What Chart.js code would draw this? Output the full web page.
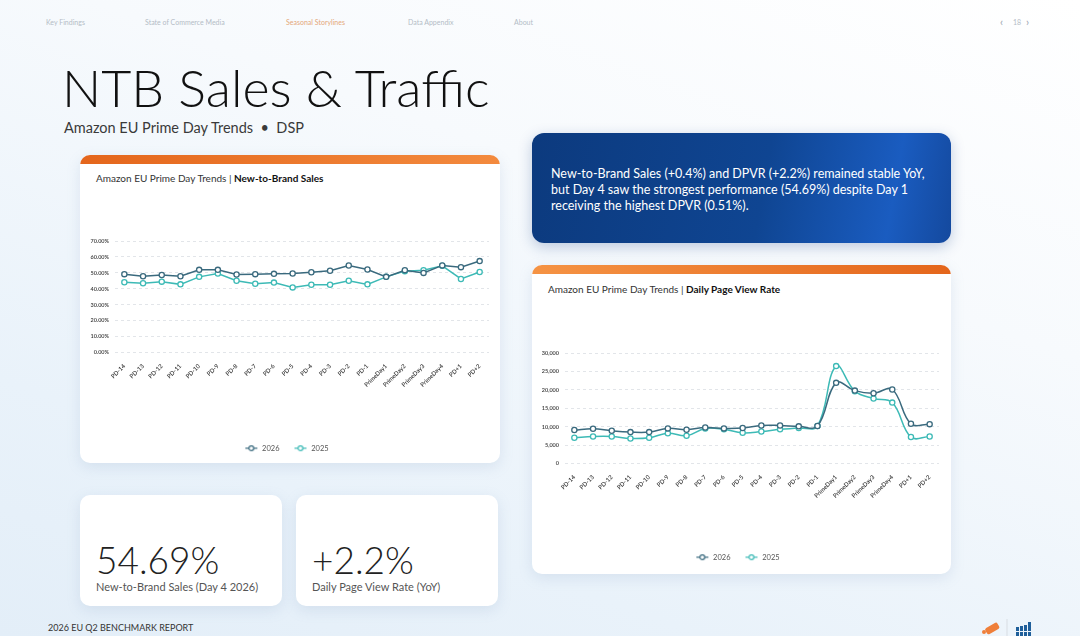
<!DOCTYPE html>
<html>
<head>
<meta charset="utf-8">
<script src="https://cdn.jsdelivr.net/npm/chart.js@4.4.0/dist/chart.umd.min.js"></script>
<style>
  html,body{margin:0;padding:0;}
  body{width:1080px;height:636px;overflow:hidden;position:relative;font-family:"Lato","Noto Sans",sans-serif;
    background:linear-gradient(200deg,#ffffff 0%,#f7fafd 35%,#e9f2fa 75%,#e3eef8 100%);}
  .abs{position:absolute;}
  .nav{top:18px;font-size:7px;color:#b4bcc6;white-space:nowrap;}
  .title{left:62px;top:56px;font-size:52px;font-weight:300;color:#111;letter-spacing:0px;white-space:nowrap;}
  .sub{left:64px;top:119px;font-size:14.5px;color:#3a3a3a;white-space:nowrap;}
  .card{background:#fff;border-radius:10px;box-shadow:0 4px 14px rgba(120,150,190,0.18);overflow:hidden;}
  .bar{position:absolute;left:0;top:0;right:0;height:9px;}
  .ctitle{position:absolute;font-size:10px;color:#333;white-space:nowrap;}
  .ctitle b{color:#111;font-weight:700;}
  .blue{left:532px;top:133px;width:419px;height:110px;border-radius:12px;
    background:linear-gradient(100deg,#0c3a7e 0%,#0f4592 55%,#1a5cc0 85%,#14499e 100%);
    box-shadow:0 4px 14px rgba(20,60,130,0.25);}
  .blue p{margin:0;position:absolute;left:19px;top:33px;width:378px;font-size:12.5px;line-height:16px;color:#fff;}
  .kpi{position:absolute;}
  .kpi .num{position:absolute;left:16px;top:42px;font-size:37px;font-weight:300;color:#222;white-space:nowrap;}
  .kpi .lbl{position:absolute;left:16px;top:85px;font-size:11px;color:#555;white-space:nowrap;}
  .foot{left:48px;top:622px;font-size:9px;color:#333;white-space:nowrap;}
</style>
</head>
<body>
<div class="abs nav" style="left:46px">Key Findings</div>
<div class="abs nav" style="left:145px">State of Commerce Media</div>
<div class="abs nav" style="left:286px;color:#e4a77a">Seasonal Storylines</div>
<div class="abs nav" style="left:408px">Data Appendix</div>
<div class="abs nav" style="left:514px">About</div>
<div class="abs nav" style="left:1000px;top:15px;font-size:11px;color:#9aa3ad">‹</div>
<div class="abs nav" style="left:1013px;">18</div>
<div class="abs nav" style="left:1026px;top:15px;font-size:11px;color:#9aa3ad">›</div>

<div class="abs title">NTB Sales &amp; Traffic</div>
<div class="abs sub">Amazon EU Prime Day Trends &nbsp;•&nbsp; DSP</div>

<div class="abs card" style="left:80px;top:155px;width:420px;height:308px;">
  <div class="bar" style="background:linear-gradient(90deg,#e4661c,#f38a3e);"></div>
  <div class="ctitle" style="left:16px;top:17px;">Amazon EU Prime Day Trends | <b>New-to-Brand Sales</b></div>
</div>
<div class="abs" style="left:84px;top:226px;width:412px;height:240px;"><canvas id="c1"></canvas></div>

<div class="abs blue"><p>New-to-Brand Sales (+0.4%) and DPVR (+2.2%) remained stable YoY, but Day 4 saw the strongest performance (54.69%) despite Day 1 receiving the highest DPVR (0.51%).</p></div>

<div class="abs card" style="left:532px;top:265px;width:419px;height:309px;">
  <div class="bar" style="background:linear-gradient(90deg,#f59344,#e4661c);"></div>
  <div class="ctitle" style="left:16px;top:18px;">Amazon EU Prime Day Trends | <b>Daily Page View Rate</b></div>
</div>
<div class="abs" style="left:536px;top:338px;width:410px;height:237px;"><canvas id="c2"></canvas></div>

<div class="abs card kpi" style="left:80px;top:495px;width:202px;height:111px;">
  <div class="num">54.69%</div>
  <div class="lbl">New-to-Brand Sales (Day 4 2026)</div>
</div>
<div class="abs card kpi" style="left:296px;top:495px;width:202px;height:111px;">
  <div class="num">+2.2%</div>
  <div class="lbl">Daily Page View Rate (YoY)</div>
</div>

<div class="abs foot">2026 EU Q2 BENCHMARK REPORT</div>
<svg class="abs" style="left:975px;top:616px" width="70" height="20" viewBox="0 0 70 20">
  <g fill="#ef7f3a">
    <rect x="10" y="9" width="14" height="7" rx="2" transform="rotate(-30 17 12)"/>
    <circle cx="9" cy="16" r="2"/>
  </g>
  <line x1="32" y1="3" x2="32" y2="20" stroke="#d8dde3" stroke-width="1"/>
  <g fill="#1f5f9a">
    <rect x="41" y="11" width="3" height="4"/><rect x="45" y="10" width="3" height="5"/><rect x="49" y="9" width="3" height="6"/><rect x="53" y="6" width="3" height="9"/>
    <rect x="41" y="16" width="3" height="4"/><rect x="45" y="16" width="3" height="4"/><rect x="49" y="16" width="3" height="4"/><rect x="53" y="16" width="3" height="4"/>
  </g>
</svg>

<script>
const categories = ["PD-14","PD-13","PD-12","PD-11","PD-10","PD-9","PD-8","PD-7","PD-6","PD-5","PD-4","PD-3","PD-2","PD-1","PrimeDay1","PrimeDay2","PrimeDay3","PrimeDay4","PD+1","PD+2"];
const ntb2026 = [49.2,47.9,48.7,47.9,51.9,51.9,49.0,49.2,49.4,49.6,50.4,51.3,54.6,52.1,47.5,51.7,50.0,54.69,53.6,57.4];
const ntb2025 = [44.1,43.5,44.5,42.8,47.5,49.6,45.1,43.2,43.9,40.9,42.6,42.6,45.1,42.8,47.5,51.1,51.7,54.4,46.2,50.6];
const dpv2026 = [9100,9450,8900,8550,8550,9550,9200,9800,9550,9650,10350,10350,10100,10200,21900,19800,19100,20100,10800,10700];
const dpv2025 = [7000,7350,7350,6800,7000,8250,7550,9550,9300,8350,8700,9300,9650,10200,26450,19650,17650,16550,7200,7350];
const seriesNames = ["2026","2025"];
const colors = ["#3a6a7e","#3dbab6"];

function legendImg(color){
  const c=document.createElement('canvas');
  c.width=14; c.height=8;
  const g=c.getContext('2d');
  g.strokeStyle=color; g.lineWidth=1.2;
  g.beginPath(); g.moveTo(1,4); g.lineTo(13,4); g.stroke();
  g.beginPath(); g.arc(7,4,2.4,0,Math.PI*2); g.fillStyle='#fff'; g.fill(); g.stroke();
  return c;
}
const legendImgs = colors.map(legendImg);

function makeChart(id, d1, d2, yOpts, tension, extra, padTop){
  const ds=[d1,d2].map((d,i)=>({
    label:seriesNames[i], data:d, borderColor:colors[i], backgroundColor:'#fff',
    borderWidth:1.5, pointRadius:2.6, pointBorderWidth:1.3, pointBackgroundColor:'#fff',
    pointBorderColor:colors[i], tension:tension, order: i===0?0:1
  }));
  return new Chart(document.getElementById(id),{
    type:'line',
    data:{labels:categories, datasets:ds},
    options:{
      responsive:true, maintainAspectRatio:false, animation:false,
      layout:{padding:{top:padTop,right:7,left:0,bottom:4}},
      plugins:{
        legend:{position:'bottom',labels:{usePointStyle:true,pointStyleWidth:14,boxHeight:8,padding:14,color:'#555',
          font:{size:7.5,family:'Lato'},
          generateLabels(chart){
            const items=Chart.defaults.plugins.legend.labels.generateLabels(chart);
            items.forEach((it,i)=>{it.pointStyle=legendImgs[i];});
            return items;
          }}},
        tooltip:{enabled:false}
      },
      scales:{
        x:{offset:true,grid:{display:false},border:{display:false},
          ticks:{minRotation:45,maxRotation:45,autoSkip:false,color:'#333',font:{size:6,weight:'600',family:'Lato'},padding:2},
          afterFit(axis){axis.height+=extra;}},
        y:Object.assign({grid:{color:'#e2e5e9',drawTicks:false},border:{display:false,dash:[3,3]},
          afterFit(axis){axis.width=yOpts.w;}},yOpts.s)
      }
    }
  });
}

makeChart('c1', ntb2026, ntb2025, {w:31, s:{min:0,max:70,ticks:{stepSize:10,color:'#333',font:{size:5.5,weight:'600',family:'Lato'},padding:6,callback:v=>v.toFixed(2)+'%'}}}, 0, 40, 15);
makeChart('c2', dpv2026, dpv2025, {w:29, s:{min:0,max:30000,ticks:{stepSize:5000,color:'#333',font:{size:5.5,weight:'600',family:'Lato'},padding:6,callback:v=>v.toLocaleString('en-US')}}}, 0.4, 38, 15);
</script>
</body>
</html>
